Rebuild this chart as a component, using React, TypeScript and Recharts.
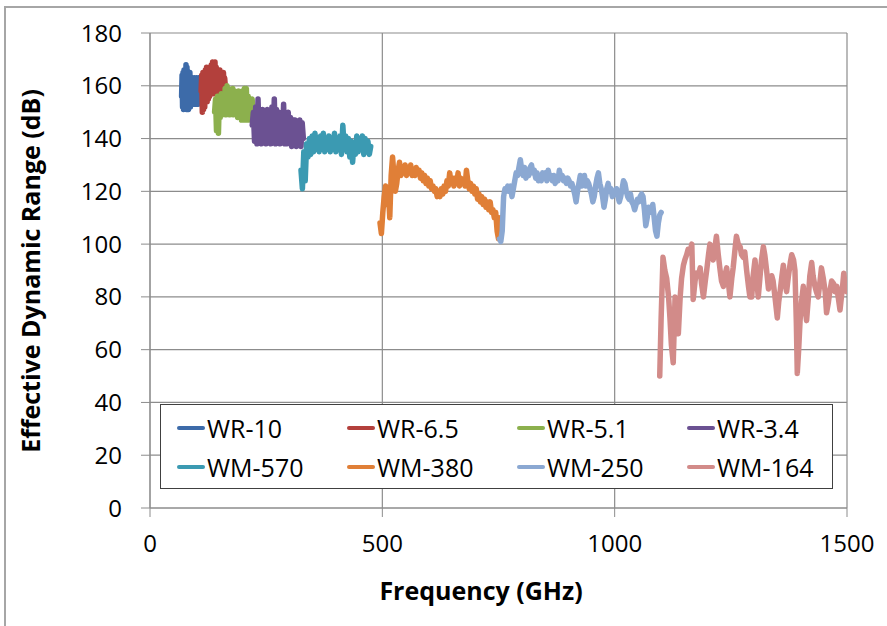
import { LineChart, Line, XAxis, YAxis, CartesianGrid } from 'recharts';

// frequency grids (GHz) for the swept bands: start + step * index
const wr10Start = 68;
const wr10Step = 1.05;
const wr10Db = [156, 164, 152, 165, 151, 166, 152, 165, 153, 168, 151, 167, 152, 165, 151, 164, 153, 165, 152, 163, 154, 162, 153, 163, 155, 162, 153, 163, 154, 162, 153, 163, 155, 162, 153, 163, 154, 162, 155, 160, 157];

const wr65Start = 110;
const wr65Step = 1.3;
const wr65Db = [158, 164, 150, 165, 151, 163, 152, 166, 155, 167, 154, 166, 155, 167, 156, 166, 157, 168, 157, 169, 158, 168, 157, 169, 158, 167, 157, 166, 158, 165, 158, 166, 159, 165, 158, 164, 159, 165, 158, 163, 160];

const wr51Start = 139;
const wr51Step = 2.07;
const wr51Db = [150, 155, 143, 156, 142, 156, 148, 157, 149, 157, 150, 159, 149, 160, 150, 159, 149, 158, 150, 159, 149, 158, 150, 157, 148, 158, 149, 157, 147, 158, 148, 159, 147, 159, 148, 156, 147, 155, 148, 155, 150];

const wr34Start = 220;
const wr34Step = 2.5;
const wr34Db = [145, 150, 139, 152, 138, 155, 139, 151, 138, 151, 139, 150, 138, 151, 139, 150, 138, 152, 139, 155, 138, 151, 139, 150, 138, 149, 139, 153, 138, 149, 138, 150, 139, 148, 137, 147, 138, 147, 137, 146, 138, 147, 137, 146, 140];

const wm570Start = 325;
const wm570Step = 3;
const wm570Db = [128, 121, 135, 124, 138, 133, 140, 134, 141, 135, 142, 136, 140, 135, 141, 136, 142, 135, 140, 136, 141, 135, 140, 136, 142, 135, 140, 136, 141, 134, 145, 136, 141, 135, 140, 133, 139, 131, 138, 134, 141, 135, 140, 136, 141, 134, 140, 135, 139, 134, 137];

const wm380Start = 495;
const wm380Step = 3;
const wm380Db = [108, 104, 112, 118, 122, 115, 120, 110, 126, 133, 126, 120, 123, 128, 131, 126, 129, 127, 130, 126, 129, 127, 130, 126, 128, 126, 129, 127, 128, 125, 127, 124, 126, 123, 125, 122, 124, 121, 122, 120, 121, 118, 120, 118, 121, 119, 122, 120, 124, 122, 127, 123, 125, 122, 125, 123, 127, 122, 125, 123, 124, 122, 128, 124, 121, 123, 120, 122, 119, 121, 117, 119, 116, 118, 115, 117, 114, 116, 113, 116, 112, 113, 110, 112, 105, 102, 110];

const wm250Start = 752;
const wm250Step = 3;
const wm250Db = [102, 101, 105, 118, 121, 120, 122, 120, 122, 118, 121, 124, 127, 126, 129, 132, 128, 126, 129, 125, 127, 126, 129, 130, 127, 128, 125, 127, 124, 126, 124, 127, 125, 127, 124, 128, 125, 126, 124, 126, 123, 125, 124, 128, 125, 126, 124, 125, 123, 125, 124, 122, 123, 121, 119, 116, 120, 123, 126, 122, 124, 126, 122, 124, 123, 121, 119, 116, 118, 122, 125, 127, 123, 121, 118, 114, 117, 121, 123, 120, 121, 118, 120, 119, 121, 118, 116, 118, 121, 124, 123, 120, 118, 117, 119, 116, 115, 113, 115, 117, 116, 118, 119, 118, 113, 107, 110, 114, 112, 113, 115, 110, 105, 103, 108, 111, 112];

const wm164Freq = [1097, 1100, 1104, 1108, 1112, 1116, 1119, 1122, 1126, 1130, 1134, 1137, 1141, 1144, 1148, 1151, 1155, 1158, 1162, 1166, 1169, 1173, 1176, 1180, 1184, 1187, 1191, 1195, 1198, 1202, 1205, 1209, 1212, 1216, 1219, 1223, 1227, 1230, 1234, 1237, 1241, 1245, 1248, 1252, 1255, 1259, 1262, 1266, 1270, 1273, 1277, 1280, 1284, 1288, 1291, 1295, 1298, 1302, 1305, 1309, 1313, 1316, 1320, 1323, 1327, 1331, 1334, 1338, 1341, 1345, 1350, 1353, 1356, 1360, 1363, 1366, 1370, 1374, 1378, 1381, 1385, 1388, 1391, 1393, 1396, 1399, 1402, 1406, 1409, 1413, 1417, 1420, 1424, 1427, 1431, 1434, 1438, 1442, 1445, 1449, 1453, 1456, 1460, 1463, 1467, 1471, 1474, 1478, 1481, 1485, 1488, 1491, 1493, 1496, 1499];
const wm164Db = [50, 72, 95, 90, 87, 80, 72, 62, 55, 80, 72, 66, 80, 87, 92, 94, 96, 98, 97, 100, 79, 86, 89, 88, 91, 85, 80, 86, 90, 96, 100, 97, 94, 99, 103, 96, 90, 86, 84, 88, 91, 85, 80, 87, 91, 98, 103, 100, 99, 96, 95, 97, 90, 84, 80, 80, 88, 94, 88, 80, 88, 94, 99, 96, 90, 83, 85, 88, 86, 80, 72, 78, 82, 88, 92, 86, 82, 88, 93, 96, 94, 90, 70, 51, 60, 71, 78, 84, 77, 71, 80, 88, 93, 88, 84, 82, 80, 86, 91, 87, 82, 74, 78, 82, 86, 85, 82, 84, 80, 75, 80, 85, 89, 84, 82];

const xTicks = [0, 500, 1000, 1500];
const yTicks = [0, 20, 40, 60, 80, 100, 120, 140, 160, 180];

const swept = (start: number, step: number, db: number[]) => db.map((y, i) => ({ x: start + step * i, y }));
const paired = (freq: number[], db: number[]) => freq.map((x, i) => ({ x, y: db[i] }));

const series = [
  { name: 'WR-10', color: '#3d6ba9', data: swept(wr10Start, wr10Step, wr10Db) },
  { name: 'WR-6.5', color: '#b3403c', data: swept(wr65Start, wr65Step, wr65Db) },
  { name: 'WR-5.1', color: '#8cb04d', data: swept(wr51Start, wr51Step, wr51Db) },
  { name: 'WR-3.4', color: '#6b5192', data: swept(wr34Start, wr34Step, wr34Db) },
  { name: 'WM-570', color: '#3b9ab2', data: swept(wm570Start, wm570Step, wm570Db) },
  { name: 'WM-380', color: '#e07f37', data: swept(wm380Start, wm380Step, wm380Db) },
  { name: 'WM-250', color: '#8ba8d2', data: swept(wm250Start, wm250Step, wm250Db) },
  { name: 'WM-164', color: '#d28b89', data: paired(wm164Freq, wm164Db) },
];

const FONT = '"Open Sans", "Liberation Sans", sans-serif';
const GRID = '#8c8c8c';

const XTitle = () => (
  <text x={481} y={600} textAnchor="middle" fontFamily={FONT} fontSize={25} fontWeight={700} fill="#000">
    Frequency (GHz)
  </text>
);

const YTitle = () => (
  <text x={40} y={271} transform="rotate(-90 40 271)" textAnchor="middle" fontFamily={FONT} fontSize={25} fontWeight={700} fill="#000">
    Effective Dynamic Range (dB)
  </text>
);

export default function App() {
  return (
    <div style={{ position: 'absolute', left: 0, top: 0, width: 887, height: 626, background: '#fff', fontFamily: FONT }}>
      <div style={{ position: 'absolute', left: 4, top: 6, right: 0, bottom: 0, borderTop: '2px solid #a6a6a6', borderLeft: '2px solid #a6a6a6' }} />
      <LineChart width={887} height={626} margin={{ top: 33, right: 40, bottom: 0, left: 0 }} style={{ position: 'absolute', left: 0, top: 0 }}>
        <CartesianGrid stroke={GRID} strokeWidth={1.2} />
        <XAxis
          type="number"
          dataKey="x"
          domain={[0, 1500]}
          ticks={xTicks}
          height={118}
          tickSize={9}
          tickMargin={18}
          stroke={GRID}
          tick={{ fill: '#000', fontSize: 24, fontFamily: FONT }}
          allowDataOverflow
          label={<XTitle />}
        />
        <YAxis
          type="number"
          dataKey="y"
          domain={[0, 180]}
          ticks={yTicks}
          width={150}
          tickSize={9}
          tickMargin={19}
          stroke={GRID}
          tick={{ fill: '#000', fontSize: 24, fontFamily: FONT }}
          label={<YTitle />}
        />
        {series.map(s => (
          <Line
            key={s.name}
            data={s.data}
            dataKey="y"
            name={s.name}
            type="linear"
            stroke={s.color}
            strokeWidth={5.5}
            strokeLinejoin="round"
            strokeLinecap="round"
            dot={false}
            isAnimationActive={false}
          />
        ))}
      </LineChart>
      <div style={{ position: 'absolute', left: 160, top: 404, width: 671, height: 83, border: '1.5px solid #404040', background: '#fff' }}>
        {series.map((s, i) => (
          <div
            key={s.name}
            style={{ position: 'absolute', left: 16 + (i % 4) * 170, top: i < 4 ? 6 : 45, height: 34, display: 'flex', alignItems: 'center', fontSize: 25, color: '#000' }}
          >
            <span style={{ display: 'inline-block', width: 28, height: 4, borderRadius: 2, background: s.color, marginRight: 2 }} />
            {s.name}
          </div>
        ))}
      </div>
    </div>
  );
}
